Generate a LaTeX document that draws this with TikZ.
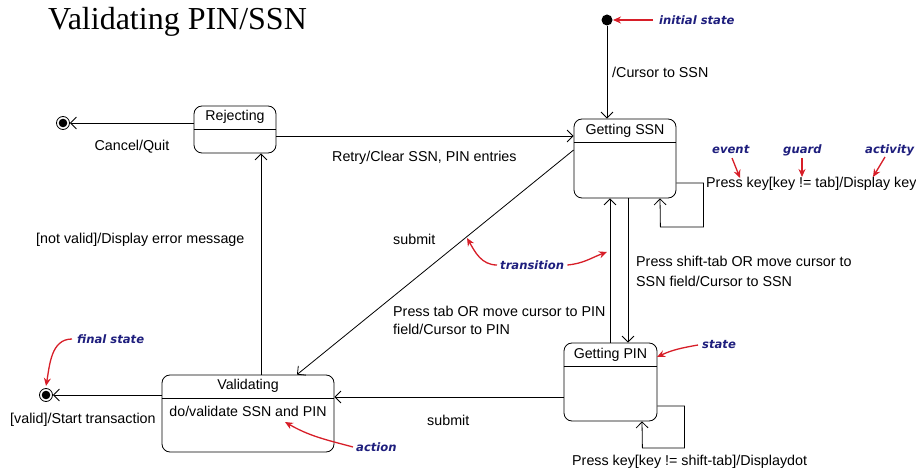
\documentclass[tikz,border=0pt]{standalone}
\usepackage{fontspec}
\setmainfont{Liberation Sans}
\newfontfamily\titlefont{Liberation Serif}
\newfontfamily\annfont{DejaVu Sans}
\usetikzlibrary{arrows.meta}
\definecolor{annblue}{RGB}{30,30,125}
\definecolor{annred}{RGB}{215,30,40}
\tikzset{
  stbox/.style={draw, rounded corners=8pt, line width=0.8pt, inner sep=0pt},
  lbl/.style={font=\fontsize{14.3}{18}\selectfont, inner sep=0pt, anchor=west, align=left},
  nm/.style={font=\fontsize{14.2}{16}\selectfont, inner sep=0pt, anchor=center},
  ann/.style={font=\annfont\bfseries\itshape\fontsize{11.6}{13}\selectfont, text=annblue, inner sep=0pt, anchor=west},
  redarr/.style={draw=annred, line width=1.3pt, -{Stealth[length=8pt,width=7pt]}},
  tr/.style={line width=0.8pt, -{Straight Barb[length=6pt,width=12pt]}},
  divl/.style={line width=0.8pt},
}
\begin{document}
\begin{tikzpicture}[x=1pt,y=-1pt]
\useasboundingbox (0,0) rectangle (916,470);
% title
\node[font=\titlefont\fontsize{32}{34}\selectfont, inner sep=0pt, anchor=west] (title) at (48,22) {Validating PIN/SSN};
% states
\node[stbox, minimum width=82pt, minimum height=47pt] (rej) at (235,129.5) {};
\node[stbox, minimum width=102pt, minimum height=79pt] (ssn) at (625,158.5) {};
\node[stbox, minimum width=93pt, minimum height=78pt] (pin) at (610.5,382) {};
\node[stbox, minimum width=172pt, minimum height=77pt] (val) at (248,413.5) {};
\foreach \s in {rej,ssn,pin,val}{
  \draw[divl] ([yshift=-24pt]\s.north west) -- ([yshift=-24pt]\s.north east);
}
\node[nm] (rejname) at ([yshift=-11pt]rej.north) {Rejecting};
\node[nm] (ssnname) at ([yshift=-12pt]ssn.north) {Getting SSN};
\node[nm] (pinname) at ([yshift=-12pt]pin.north) {Getting PIN};
\node[nm] (valname) at ([yshift=-11pt]val.north) {Validating};
\node[nm] (valdo) at ([yshift=-37pt]val.north) {do/validate SSN and PIN};
% pseudo states
\node[circle, fill, minimum size=11pt, inner sep=0pt] (init) at (607,20) {};
\node[circle, draw, line width=0.8pt, minimum size=13pt, inner sep=0pt] (fin1) at (63,123) {};
\fill (fin1) circle (4.3pt);
\node[circle, draw, line width=0.8pt, minimum size=13pt, inner sep=0pt] (fin2) at (46,395) {};
\fill (fin2) circle (4.3pt);
% transitions
\draw[tr] (init) -- (init |- ssn.north);
\draw[tr] (rej.west |- fin1) -- (fin1);
\draw[tr] ([yshift=-6.5pt]rej.east) -- ([yshift=-6.5pt]rej.east -| ssn.west);
\draw[tr] ([yshift=8.5pt]ssn.west) -- ([xshift=49pt]val.north);
\draw[tr] ([xshift=3pt]ssn.south) -- ([xshift=3pt]ssn.south |- pin.north);
\draw[tr] ([xshift=-0.5pt]pin.north) -- ([xshift=-0.5pt]pin.north |- ssn.south);
\draw[tr] ([yshift=-24.5pt]ssn.east) -- ++(27,0) -- ++(0,44) -- ++(-43,0) -- ([xshift=35pt]ssn.south);
\draw[tr] ([yshift=-24pt]pin.east) -- ++(27,0) -- ++(0,42) -- ++(-42,0) -- ([xshift=31.5pt]pin.south);
\draw[tr] ([yshift=-15pt]pin.west) -- ([yshift=-15pt]pin.west -| val.east);
\draw[tr] ([xshift=13pt]val.north) -- ([xshift=13pt]val.north |- rej.south);
\draw[tr] (val.west |- fin2) -- (fin2);
% transition labels
\node[lbl] (l1) at (612,72) {/Cursor to SSN};
\node[lbl, anchor=center] (l2) at (132,147) {Cancel/Quit};
\node[lbl] (l3) at (332,158) {Retry/Clear SSN, PIN entries};
\node[lbl] (l4) at (36,240) {[not valid]/Display error message};
\node[lbl] (l5) at (393,239) {submit};
\node[lbl] (l6) at (393,320) {Press tab OR move cursor to PIN\\field/Cursor to PIN};
\node[lbl, font=\fontsize{14.3}{20}\selectfont] (l7) at (636,271) {Press shift-tab OR move cursor to\\SSN field/Cursor to SSN};
\node[lbl] (l8) at (427,420) {submit};
\node[lbl] (l9) at (10,420) {[valid]/Start transaction};
\node[lbl] (l10) at (706,184) {Press key[key != tab]/Display key};
\node[lbl] (l11) at (572,462) {Press key[key != shift-tab]/Displaydot};
% annotations
\node[ann] (a1) at (659,20) {initial state};
\node[ann] (a2) at (712,150) {event};
\node[ann] (a3) at (783,150) {guard};
\node[ann] (a4) at (865,150) {activity};
\node[ann] (a5) at (500,265) {transition};
\node[ann] (a6) at (77,339) {final state};
\node[ann] (a7) at (356,447) {action};
\node[ann] (a8) at (702,345) {state};
\coordinate (t1) at (613,20);
\coordinate (t2) at (740,178);
\coordinate (t3) at (802,177);
\coordinate (t4) at (873,177);
\coordinate (t5a) at (467,238);
\coordinate (t5b) at (607,252);
\coordinate (t6) at (46,386);
\coordinate (t7) at (285,422);
\coordinate (t8) at (657,357);
\draw[redarr] ([xshift=-6pt]a1.west) -- (t1);
\draw[redarr] (732,158) -- (t2);
\draw[redarr] (802,158) -- (t3);
\draw[redarr] (885,157) -- (t4);
\draw[redarr] ([xshift=-3pt]a5.west) to[out=180,in=-60] (t5a);
\draw[redarr] ([xshift=3pt]a5.east) to[out=5,in=200] (t5b);
\draw[redarr] ([xshift=-5pt]a6.west) to[out=180,in=80] (t6);
\draw[redarr] ([xshift=-3pt]a7.west) to[out=165,in=-30] (t7);
\draw[redarr] ([xshift=-4pt]a8.west) to[out=190,in=25] (t8);
\end{tikzpicture}
\end{document}
